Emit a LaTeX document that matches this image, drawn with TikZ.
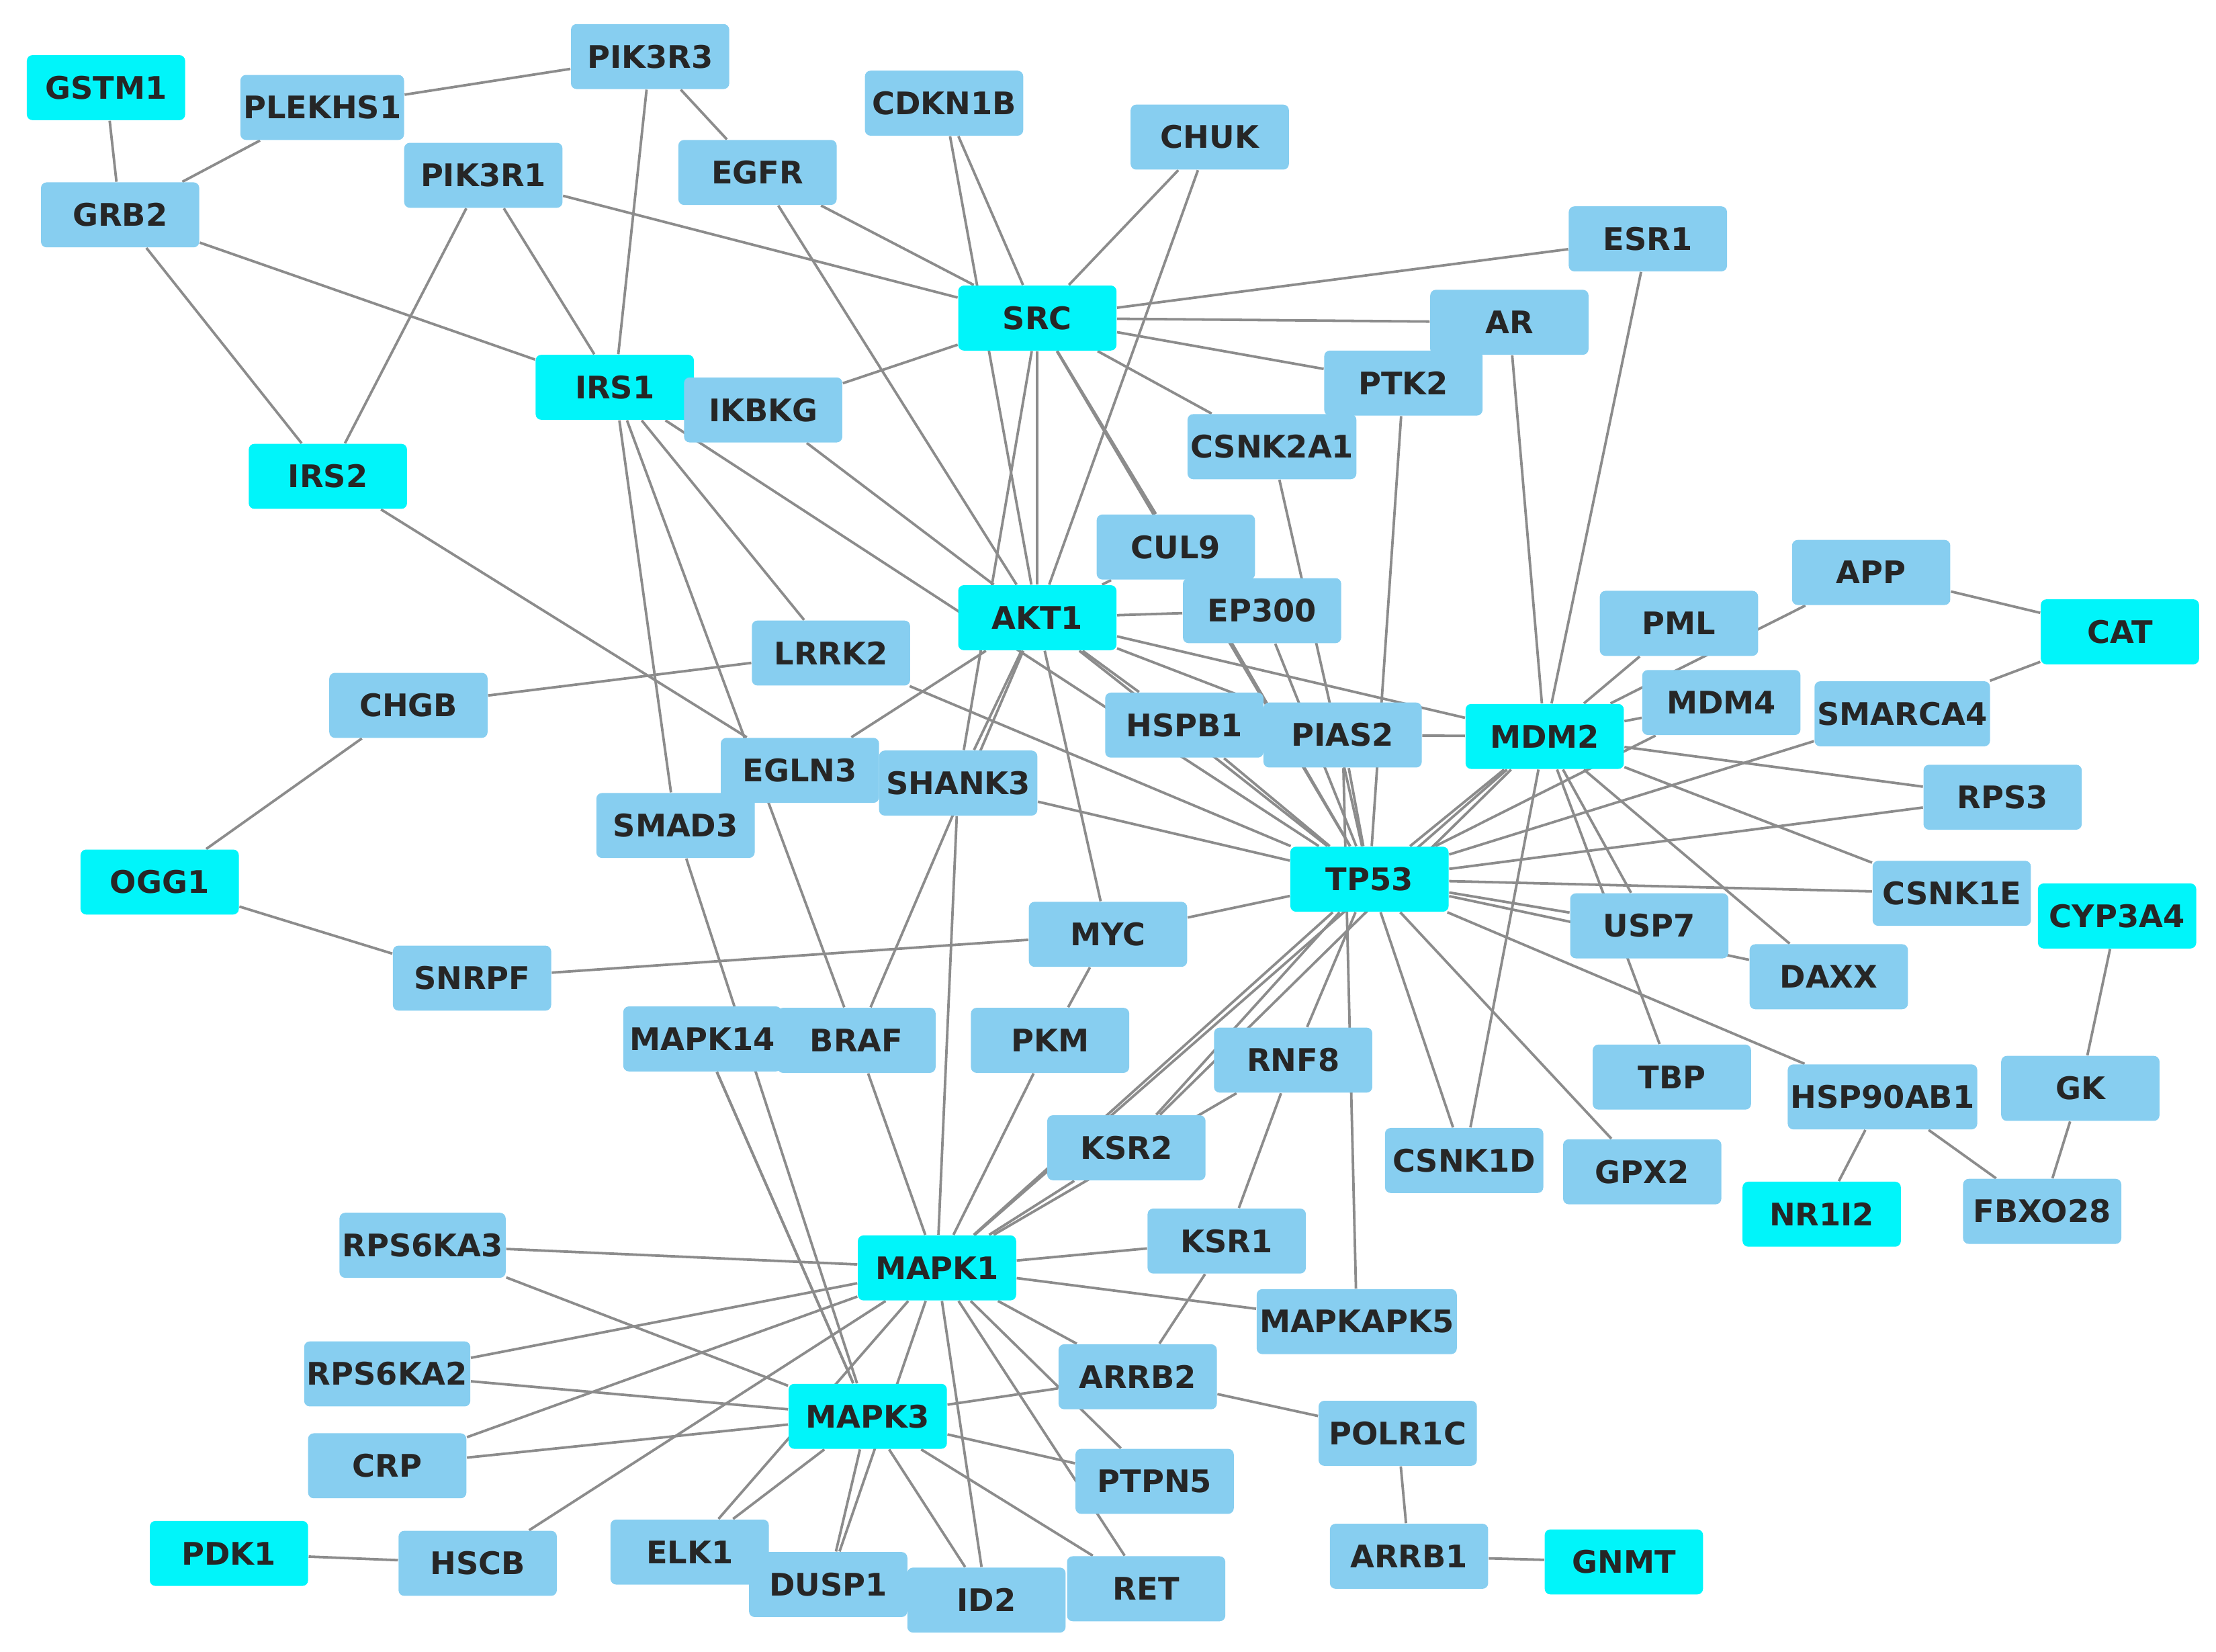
\documentclass[tikz,border=0pt]{standalone}
\usepackage{fontspec}
\setmainfont{DejaVu Sans}
\usetikzlibrary{backgrounds}
\definecolor{lb}{RGB}{135,206,240}
\definecolor{cy}{RGB}{0,245,250}
\definecolor{eg}{RGB}{140,140,140}
\tikzset{b/.style={fill=lb,rounded corners=2pt,minimum width=56pt,minimum height=23pt,inner xsep=1pt,font=\bfseries\fontsize{11}{12}\selectfont,text=black!85},
c/.style={b,fill=cy},
e/.style={draw=eg,line width=0.9pt}}
\begin{document}
\begin{tikzpicture}[x=0.5pt,y=-0.5pt]
\useasboundingbox (0,0) rectangle (1568,1168.6);
\node[c] (GSTM1) at (75,62) {GSTM1};
\node[b] (PLEKHS1) at (228,76) {PLEKHS1};
\node[b] (PIK3R3) at (460,40) {PIK3R3};
\node[b] (CDKN1B) at (668,73) {CDKN1B};
\node[b] (CHUK) at (856,97) {CHUK};
\node[b] (GRB2) at (85,152) {GRB2};
\node[b] (PIK3R1) at (342,124) {PIK3R1};
\node[b] (EGFR) at (536,122) {EGFR};
\node[b] (ESR1) at (1166,169) {ESR1};
\node[c] (SRC) at (734,225) {SRC};
\node[b] (AR) at (1068,228) {AR};
\node[c] (IRS1) at (435,274) {IRS1};
\node[b] (IKBKG) at (540,290) {IKBKG};
\node[b] (PTK2) at (993,271) {PTK2};
\node[c] (IRS2) at (232,337) {IRS2};
\node[b] (CSNK2A1) at (900,316) {CSNK2A1};
\node[b] (CUL9) at (832,387) {CUL9};
\node[b] (APP) at (1324,405) {APP};
\node[c] (AKT1) at (734,437) {AKT1};
\node[b] (EP300) at (893,432) {EP300};
\node[b] (PML) at (1188,441) {PML};
\node[c] (CAT) at (1500,447) {CAT};
\node[b] (LRRK2) at (588,462) {LRRK2};
\node[b] (CHGB) at (289,499) {CHGB};
\node[b] (MDM4) at (1218,497) {MDM4};
\node[b] (SMARCA4) at (1346,505) {SMARCA4};
\node[b] (HSPB1) at (838,513) {HSPB1};
\node[b] (PIAS2) at (950,520) {PIAS2};
\node[c] (MDM2) at (1093,521) {MDM2};
\node[b] (EGLN3) at (566,545) {EGLN3};
\node[b] (SHANK3) at (678,554) {SHANK3};
\node[b] (SMAD3) at (478,584) {SMAD3};
\node[b] (RPS3) at (1417,564) {RPS3};
\node[c] (TP53) at (969,622) {TP53};
\node[c] (OGG1) at (113,624) {OGG1};
\node[b] (CSNK1E) at (1381,632) {CSNK1E};
\node[c] (CYP3A4) at (1498,648) {CYP3A4};
\node[b] (MYC) at (784,661) {MYC};
\node[b] (USP7) at (1167,655) {USP7};
\node[b] (SNRPF) at (334,692) {SNRPF};
\node[b] (DAXX) at (1294,691) {DAXX};
\node[b] (MAPK14) at (497,735) {MAPK14};
\node[b] (BRAF) at (606,736) {BRAF};
\node[b] (PKM) at (743,736) {PKM};
\node[b] (RNF8) at (915,750) {RNF8};
\node[b] (TBP) at (1183,762) {TBP};
\node[b] (HSP90AB1) at (1332,776) {HSP90AB1};
\node[b] (GK) at (1472,770) {GK};
\node[b] (KSR2) at (797,812) {KSR2};
\node[b] (CSNK1D) at (1036,821) {CSNK1D};
\node[b] (GPX2) at (1162,829) {GPX2};
\node[c] (NR1I2) at (1289,859) {NR1I2};
\node[b] (FBXO28) at (1445,857) {FBXO28};
\node[b] (RPS6KA3) at (299,881) {RPS6KA3};
\node[c] (MAPK1) at (663,897) {MAPK1};
\node[b] (KSR1) at (868,878) {KSR1};
\node[b] (MAPKAPK5) at (960,935) {MAPKAPK5};
\node[b] (RPS6KA2) at (274,972) {RPS6KA2};
\node[b] (ARRB2) at (805,974) {ARRB2};
\node[c] (MAPK3) at (614,1002) {MAPK3};
\node[b] (POLR1C) at (989,1014) {POLR1C};
\node[b] (CRP) at (274,1037) {CRP};
\node[b] (PTPN5) at (817,1048) {PTPN5};
\node[c] (PDK1) at (162,1099) {PDK1};
\node[b] (HSCB) at (338,1106) {HSCB};
\node[b] (ELK1) at (488,1098) {ELK1};
\node[b] (DUSP1) at (586,1121) {DUSP1};
\node[b] (ID2) at (698,1132) {ID2};
\node[b] (RET) at (811,1124) {RET};
\node[b] (ARRB1) at (997,1101) {ARRB1};
\node[c] (GNMT) at (1149,1105) {GNMT};
\begin{scope}[on background layer]
\foreach \a/\b in {GSTM1/GRB2,GRB2/PLEKHS1,PLEKHS1/PIK3R3,PIK3R3/IRS1,PIK3R3/EGFR,GRB2/IRS2,GRB2/IRS1,
PIK3R1/IRS2,PIK3R1/IRS1,PIK3R1/SRC,EGFR/SRC,EGFR/AKT1,CDKN1B/SRC,CDKN1B/AKT1,CHUK/SRC,CHUK/AKT1,
ESR1/SRC,ESR1/MDM2,AR/SRC,AR/MDM2,SRC/PTK2,SRC/CSNK2A1,SRC/IKBKG,SRC/AKT1,SRC/CUL9,SRC/SHANK3,SRC/TP53,
IRS1/LRRK2,IRS1/SMAD3,IRS1/BRAF,IRS1/TP53,IKBKG/AKT1,IRS2/EGLN3,CHGB/LRRK2,CHGB/OGG1,OGG1/SNRPF,
SNRPF/MYC,MYC/TP53,MYC/PKM,AKT1/MYC,LRRK2/TP53,AKT1/EP300,AKT1/CUL9,AKT1/HSPB1,AKT1/PIAS2,AKT1/MDM2,
AKT1/TP53,AKT1/EGLN3,AKT1/SHANK3,AKT1/BRAF,SHANK3/TP53,SHANK3/MAPK1,SMAD3/MAPK3,MAPK14/MAPK3,
BRAF/MAPK1,PKM/MAPK1,TP53/MDM2,TP53/PIAS2,TP53/HSPB1,TP53/EP300,TP53/CSNK2A1,TP53/PTK2,TP53/MDM4,
TP53/SMARCA4,TP53/RPS3,TP53/CSNK1E,TP53/USP7,TP53/DAXX,TP53/HSP90AB1,TP53/GPX2,TP53/CSNK1D,TP53/RNF8,
TP53/KSR2,TP53/MAPK1,TP53/CUL9,MDM2/PIAS2,MDM2/USP7,MDM2/DAXX,MDM2/TBP,MDM2/CSNK1E,MDM2/RPS3,MDM2/MDM4,
MDM2/PML,MDM2/APP,MDM2/CSNK1D,MDM2/MAPK1,MDM2/KSR2,APP/CAT,CAT/SMARCA4,CYP3A4/GK,GK/FBXO28,
HSP90AB1/FBXO28,HSP90AB1/NR1I2,MAPK1/RPS6KA3,MAPK1/RPS6KA2,MAPK1/CRP,MAPK1/HSCB,MAPK1/ELK1,MAPK1/DUSP1,
MAPK1/ID2,MAPK1/RET,MAPK1/PTPN5,MAPK1/ARRB2,MAPK1/KSR1,MAPK1/MAPKAPK5,MAPK1/KSR2,MAPK1/RNF8,
MAPK3/RPS6KA3,MAPK3/RPS6KA2,MAPK3/CRP,MAPK3/ELK1,MAPK3/DUSP1,MAPK3/ID2,MAPK3/RET,MAPK3/PTPN5,MAPK3/ARRB2,
MAPK3/MAPK14,PDK1/HSCB,ARRB2/POLR1C,ARRB2/KSR1,POLR1C/ARRB1,ARRB1/GNMT,RNF8/KSR1,MAPKAPK5/PIAS2}
\draw[e] (\a) -- (\b);
\end{scope}
\end{tikzpicture}
\end{document}
